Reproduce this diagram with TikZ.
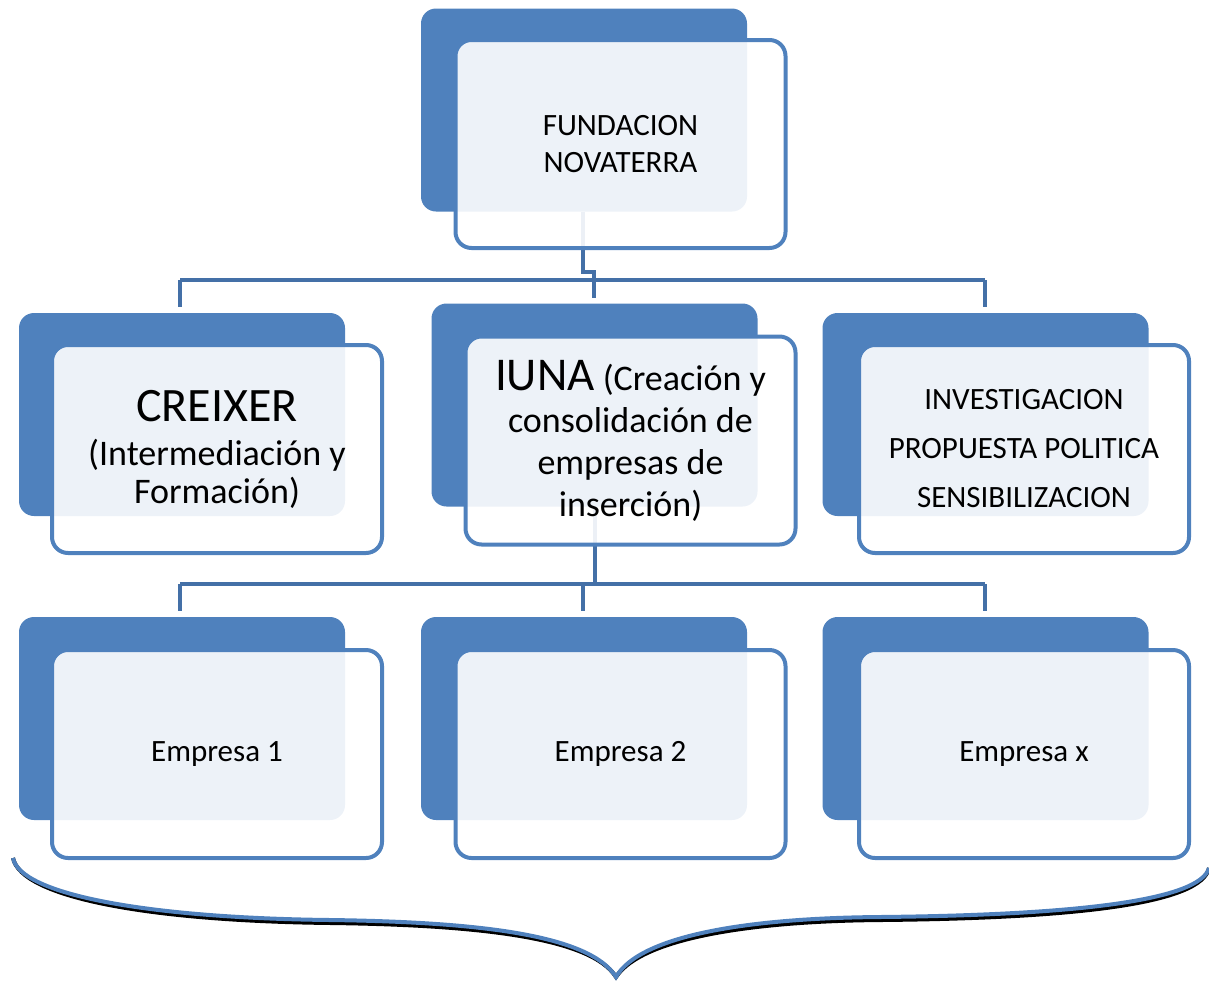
\documentclass[tikz,border=0pt]{standalone}
\usepackage{fontspec}
\setmainfont{Carlito}
\usetikzlibrary{calc}
\definecolor{dblue}{HTML}{4F81BD}
\definecolor{cblue}{HTML}{4470A7}
\tikzset{
 darkbox/.style={draw=none, fill=dblue, rounded corners=15pt, minimum width=326pt, minimum height=203pt, inner sep=0pt, outer sep=0pt},
 lightbox/.style={draw=dblue, line width=4pt, fill=white, fill opacity=0.9, draw opacity=1, rounded corners=16pt, minimum width=330pt, minimum height=208pt, inner sep=0pt, outer sep=0pt},
 conn/.style={draw=cblue, line width=4pt},
 lbl/.style={align=center, text=black, inner sep=0pt},
 bracestyle/.style={draw=dblue, line width=4pt},
 braceshadow/.style={draw=black, line width=4pt},
}
\begin{document}
\begin{tikzpicture}[x=1pt,y=-1pt]
\useasboundingbox (0,0) rectangle (1209,980);
% coordinates for connectors
\coordinate (j1) at (583,272);
\coordinate (j2) at (594,272);
\coordinate (b1L) at (180,280);
\coordinate (b1R) at (985,280);
\coordinate (b2L) at (180,584);
\coordinate (b2M) at (583,584);
\coordinate (b2R) at (985,584);
% dark boxes
\node[darkbox] (d1) at (584,110) {};
\node[darkbox] (d21) at (182,414.5) {};
\node[darkbox] (d22) at (594.5,405) {};
\node[darkbox] (d23) at (985.5,414.5) {};
\node[darkbox] (d31) at (182,718.5) {};
\node[darkbox] (d32) at (584,718.5) {};
\node[darkbox] (d33) at (985.5,718.5) {};
% connectors
\draw[conn] (d1.south -| j1) -- (j1) -- (j2) -- ($(j2 |- d22.north)+(0,-6)$);
\draw[conn] (b1L) -- (b1R);
\draw[conn] (b1L) -- ($(b1L |- d21.north)+(0,-6)$);
\draw[conn] (b1R) -- ($(b1R |- d23.north)+(0,-6)$);
\draw[conn] (d22.south) -- (d22.south |- b2L);
\draw[conn] (b2L) -- (b2R);
\draw[conn] (b2L) -- ($(b2L |- d31.north)+(0,-6)$);
\draw[conn] (b2M) -- ($(b2M |- d32.north)+(0,-6)$);
\draw[conn] (b2R) -- ($(b2R |- d33.north)+(0,-6)$);
% light boxes
\node[lightbox] (l1) at (620.5,144) {};
\node[lightbox] (l21) at (217,449) {};
\node[lightbox] (l22) at (630.5,440.5) {};
\node[lightbox] (l23) at (1024,449) {};
\node[lightbox] (l31) at (217,754) {};
\node[lightbox] (l32) at (620.5,754) {};
\node[lightbox] (l33) at (1024,754) {};
% texts
\node[lbl, font=\fontsize{31}{37}\selectfont] (t1) at (l1.center) {FUNDACION\\NOVATERRA};
\node[lbl, font=\fontsize{36}{38}\selectfont] (t21) at (l21.center) {{\fontsize{48}{50}\selectfont CREIXER}\\[6pt](Intermediación y\\Formación)};
\node[lbl, font=\fontsize{36}{42}\selectfont] (t22) at (l22.center) {{\fontsize{47}{50}\selectfont IUNA} (Creación y\\consolidación de\\empresas de\\inserción)};
\node[lbl, font=\fontsize{31}{49}\selectfont] (t23) at (l23.center) {INVESTIGACION\\PROPUESTA POLITICA\\SENSIBILIZACION};
\node[lbl, font=\fontsize{31}{37}\selectfont] (t31) at (l31.center) {Empresa 1};
\node[lbl, font=\fontsize{31}{37}\selectfont] (t32) at (l32.center) {Empresa 2};
\node[lbl, font=\fontsize{31}{37}\selectfont] (t33) at (l33.center) {Empresa x};
% brace
\coordinate (brL) at (13,858);
\coordinate (brT) at (616,977);
\coordinate (brR) at (1209,868);
\begin{scope}[shift={(1.5,3)}]
\draw[braceshadow] (brL) .. controls (20,895) and (150,918) .. (330,920) .. controls (480,922) and (590,935) .. (brT) .. controls (640,935) and (750,918) .. (880,917) .. controls (1080,915) and (1200,900) .. (brR);
\end{scope}
\draw[bracestyle] (brL) .. controls (20,895) and (150,918) .. (330,920) .. controls (480,922) and (590,935) .. (brT) .. controls (640,935) and (750,918) .. (880,917) .. controls (1080,915) and (1200,900) .. (brR);
\end{tikzpicture}
\end{document}
